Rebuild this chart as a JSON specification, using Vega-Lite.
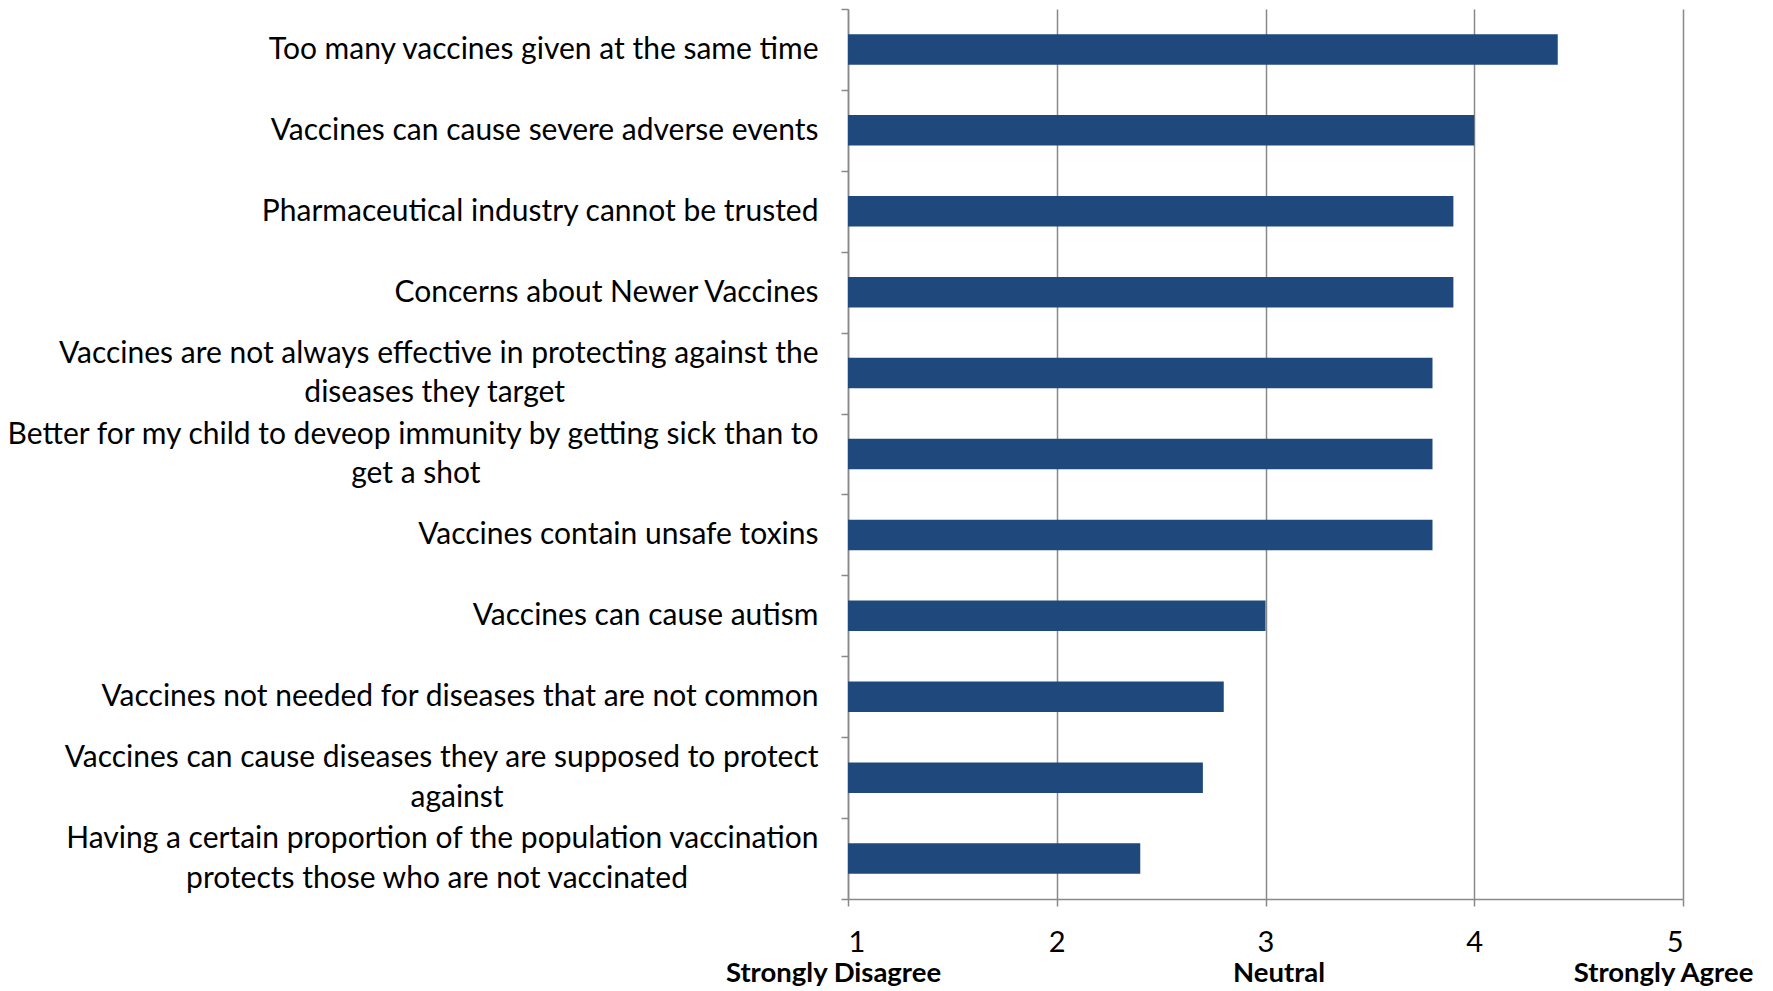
{
  "$schema": "https://vega.github.io/schema/vega-lite/v6.json",
  "width": 835,
  "height": 890,
  "autosize": {"type": "none"},
  "padding": {"left": 848, "top": 9, "right": 90, "bottom": 92},
  "background": "white",
  "config": {"view": {"stroke": null}, "font": "Lato"},
  "layer": [
    {
      "data": {
        "values": [
          {"statement": "Too many vaccines given at the same time", "score": 4.4},
          {"statement": "Vaccines can cause severe adverse events", "score": 4.0},
          {"statement": "Pharmaceutical industry cannot be trusted", "score": 3.9},
          {"statement": "Concerns about Newer Vaccines", "score": 3.9},
          {"statement": "Vaccines are not always effective in protecting against the|diseases they target", "score": 3.8},
          {"statement": "Better for my child to deveop immunity by getting sick than to|get a shot", "score": 3.8},
          {"statement": "Vaccines contain unsafe toxins", "score": 3.8},
          {"statement": "Vaccines can cause autism", "score": 3.0},
          {"statement": "Vaccines not needed for diseases that are not common", "score": 2.8},
          {"statement": "Vaccines can cause diseases they are supposed to protect|against", "score": 2.7},
          {"statement": "Having a certain proportion of the population vaccination|protects those who are not vaccinated", "score": 2.4}
        ]
      },
      "mark": {"type": "bar", "color": "#1f497d", "height": {"band": 0.377}},
      "encoding": {
        "y": {
          "field": "statement",
          "type": "nominal",
          "sort": null,
          "scale": {"paddingInner": 0, "paddingOuter": 0},
          "axis": {
            "title": null,
            "domain": true,
            "domainColor": "#898989",
            "domainWidth": 1.5,
            "ticks": true,
            "tickBand": "extent",
            "tickColor": "#898989",
            "tickWidth": 1.5,
            "tickSize": 7,
            "grid": false,
            "labelPadding": 23,
            "labelFontSize": 30,
            "labelColor": "#000000",
            "labelLimit": 0,
            "labelLineHeight": 39.6,
            "labelOffset": {"condition": {"test": "indexof(datum.label,'|') >= 0", "value": -19.8}, "value": 0},
            "labelExpr": "indexof(datum.label,'|') < 0 ? datum.label : [split(datum.label,'|')[0], split(datum.label,'|')[1] + pad('', round(0.84*(length(split(datum.label,'|')[0]) - length(split(datum.label,'|')[1]))), '\u00a0') + '\u200b']"
          }
        },
        "x": {
          "field": "score",
          "type": "quantitative",
          "scale": {"domain": [1, 5], "nice": false, "zero": false},
          "axis": {
            "orient": "bottom",
            "title": null,
            "values": [1, 2, 3, 4, 5],
            "format": "d",
            "domain": true,
            "domainColor": "#898989",
            "domainWidth": 1.5,
            "ticks": true,
            "tickColor": "#898989",
            "tickWidth": 1.5,
            "tickSize": 7,
            "grid": true,
            "gridColor": "#898989",
            "gridWidth": 1.5,
            "labelFontSize": 29,
            "labelColor": "#000000",
            "labelPadding": 22,
            "labelBaseline": "top"
          }
        },
        "x2": {"datum": 1}
      }
    },
    {
      "data": {
        "values": [
          {"score": 1, "anchor": "Strongly Disagree"},
          {"score": 3, "anchor": "Neutral"},
          {"score": 5, "anchor": "Strongly Agree"}
        ]
      },
      "mark": {"type": "rule", "strokeOpacity": 0},
      "encoding": {
        "x": {
          "field": "score",
          "type": "quantitative",
          "axis": {
            "orient": "bottom",
            "title": null,
            "values": [1, 3, 5],
            "labelExpr": "datum.value == 1 ? 'Strongly Disagree' : datum.value == 3 ? 'Neutral' : 'Strongly Agree'",
            "domain": false,
            "ticks": false,
            "grid": false,
            "labelFontSize": 27.5,
            "labelFontWeight": "bold",
            "labelColor": "#000000",
            "labelPadding": 60,
            "labelBaseline": "top",
            "labelLimit": 0,
            "labelOverlap": false,
            "labelFlush": false,
            "labelOffset": {"condition": [{"test": "datum.value == 1", "value": -15}, {"test": "datum.value == 3", "value": 13}], "value": -20}
          }
        }
      }
    }
  ],
  "resolve": {"axis": {"x": "independent"}}
}
